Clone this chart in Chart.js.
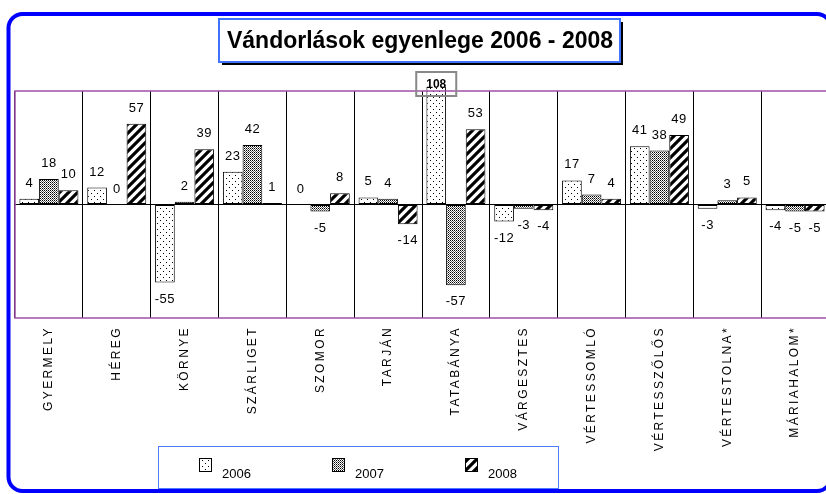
<!DOCTYPE html>
<html>
<head>
<meta charset="utf-8">
<script src="https://cdn.jsdelivr.net/npm/chart.js@4.4.1/dist/chart.umd.min.js"></script>
<style>
  html, body { margin: 0; padding: 0; overflow: hidden; background: #fff; }
  #wrap { width: 832px; height: 494px; }
</style>
</head>
<body>
<div id="wrap"><canvas id="chart" width="832" height="494"></canvas></div>
<script>
const categories = ['GYERMELY', 'HÉREG', 'KÖRNYE', 'SZÁRLIGET', 'SZOMOR', 'TARJÁN', 'TATABÁNYA',
    'VÁRGESZTES', 'VÉRTESSOMLÓ', 'VÉRTESSZŐLŐS', 'VÉRTESTOLNA*', 'MÁRIAHALOM*'];
const seriesNames = ['2006', '2007', '2008'];
const values2006 = [4, 12, -55, 23, 0, 5, 108, -12, 17, 41, -3, -4];
const values2007 = [18, 0, 2, 42, -5, 4, -57, -3, 7, 38, 3, -5];
const values2008 = [10, 57, 39, 1, 8, -14, 53, -4, 4, 49, 5, -5];
const yMin = -80;
const yMax = 80;

const FONT = '"Liberation Sans", Arial, sans-serif';

// fill patterns: sparse dots, dense dots, diagonal hatch
function makePattern(kind) {
    const c = document.createElement('canvas');
    const g = c.getContext('2d');
    if (kind === 'sparse') {
        c.width = 6; c.height = 6;
        g.fillStyle = '#fff'; g.fillRect(0, 0, 6, 6);
        g.fillStyle = '#000';
        g.fillRect(1, 1, 1, 1);
        g.fillRect(4, 4, 1, 1);
    } else if (kind === 'dense') {
        c.width = 2; c.height = 2;
        g.fillStyle = '#fff'; g.fillRect(0, 0, 2, 2);
        g.fillStyle = '#000'; g.fillRect(0, 0, 1, 1);
        g.fillStyle = '#666'; g.fillRect(1, 1, 1, 1);
    } else {
        c.width = 9; c.height = 9;
        g.fillStyle = '#fff'; g.fillRect(0, 0, 9, 9);
        g.strokeStyle = '#000';
        g.lineWidth = 3.2;
        g.beginPath();
        g.moveTo(-1, 10); g.lineTo(10, -1);
        g.moveTo(-5, 5); g.lineTo(5, -5);
        g.moveTo(4, 14); g.lineTo(14, 4);
        g.stroke();
    }
    return g.createPattern(c, 'repeat');
}

const ctx = document.getElementById('chart').getContext('2d');
const patterns = [makePattern('sparse'), makePattern('dense'), makePattern('hatch')];

const framePlugin = {
    id: 'frame',
    beforeLayout(chart) {
        chart.ctx.letterSpacing = '2.4px';
    },
    beforeDraw(chart) {
        chart.ctx.letterSpacing = '2.4px';
    },
    afterDraw(chart) {
        const c = chart.ctx;
        const a = chart.chartArea;
        c.save();
        c.letterSpacing = '0px';

        // plot border
        c.strokeStyle = '#a050a8';
        c.lineWidth = 1.5;
        c.strokeRect(a.left, a.top, a.right - a.left, a.bottom - a.top);

        // value labels
        c.fillStyle = '#000';
        c.textAlign = 'center';
        c.textBaseline = 'middle';
        chart.data.datasets.forEach((ds, i) => {
            chart.getDatasetMeta(i).data.forEach((el, j) => {
                const v = ds.data[j];
                if (v > yMax) {
                    c.strokeStyle = '#888';
                    c.lineWidth = 2;
                    c.strokeRect(el.x - 20, a.top - 19, 40, 24);
                    c.font = 'bold 12px ' + FONT;
                    c.fillText(String(v), el.x, a.top - 6);
                    return;
                }
                c.font = '13px ' + FONT;
                c.letterSpacing = '0.5px';
                if (v >= 0) c.fillText(String(v), el.x, el.y - 15.5);
                else c.fillText(String(v), el.x, el.y + 16.5);
                c.letterSpacing = '0px';
            });
        });

        // title box
        c.fillStyle = '#000';
        c.fillRect(222, 22, 401, 43);
        c.fillStyle = '#fff';
        c.fillRect(219, 19, 401, 43);
        c.strokeStyle = '#3f72ff';
        c.lineWidth = 2;
        c.strokeRect(219, 19, 401, 43);
        c.fillStyle = '#000';
        c.font = 'bold 23px ' + FONT;
        c.fillText('Vándorlások egyenlege 2006 - 2008', 420, 42);

        // legend
        c.strokeStyle = '#4f7cff';
        c.lineWidth = 1;
        c.strokeRect(158.5, 446.5, 400, 42);
        chart.data.datasets.forEach((ds, i) => {
            const x = 199 + i * 133;
            c.fillStyle = ds.backgroundColor;
            c.fillRect(x, 458, 13, 14);
            c.strokeStyle = '#000';
            c.strokeRect(x + 0.5, 458.5, 12, 13);
            c.fillStyle = '#000';
            c.textAlign = 'left';
            c.textBaseline = 'alphabetic';
            c.font = '13px ' + FONT;
            c.fillText(ds.label, x + 23, 478);
        });

        // outer rounded frame
        c.strokeStyle = '#0000ff';
        c.lineWidth = 4;
        c.beginPath();
        c.roundRect(8.5, 14, 822.5, 477, 14);
        c.stroke();
        c.restore();
    }
};

new Chart(ctx, {
    type: 'bar',
    data: {
        labels: categories,
        datasets: [values2006, values2007, values2008].map((vals, i) => ({
            label: seriesNames[i],
            data: vals,
            backgroundColor: patterns[i],
            borderColor: '#000',
            borderWidth: 1,
            borderSkipped: false,
            clip: { left: 0, top: 4, right: 0, bottom: 0 },
            categoryPercentage: 0.87,
            barPercentage: 1.0
        }))
    },
    options: {
        responsive: false,
        animation: false,
        layout: { padding: { left: 15, right: 3, top: 91, bottom: 0 } },
        plugins: {
            legend: { display: false },
            title: { display: false },
            tooltip: { enabled: false }
        },
        scales: {
            x: {
                grid: { offset: true, color: '#000', lineWidth: 1, drawTicks: false },
                border: { display: false },
                ticks: {
                    autoSkip: false,
                    minRotation: 90,
                    maxRotation: 90,
                    padding: 8,
                    color: '#000',
                    font: { family: FONT, size: 12 }
                },
                afterFit(scale) { scale.height = 176; }
            },
            y: {
                min: yMin,
                max: yMax,
                ticks: { display: false, stepSize: 80 },
                border: { display: false },
                grid: {
                    drawTicks: false,
                    lineWidth: 1,
                    color: (c) => (c.tick && c.tick.value === 0 ? '#000' : 'rgba(0,0,0,0)')
                },
                afterFit(scale) { scale.width = 0; }
            }
        }
    },
    plugins: [framePlugin]
});
</script>
</body>
</html>
